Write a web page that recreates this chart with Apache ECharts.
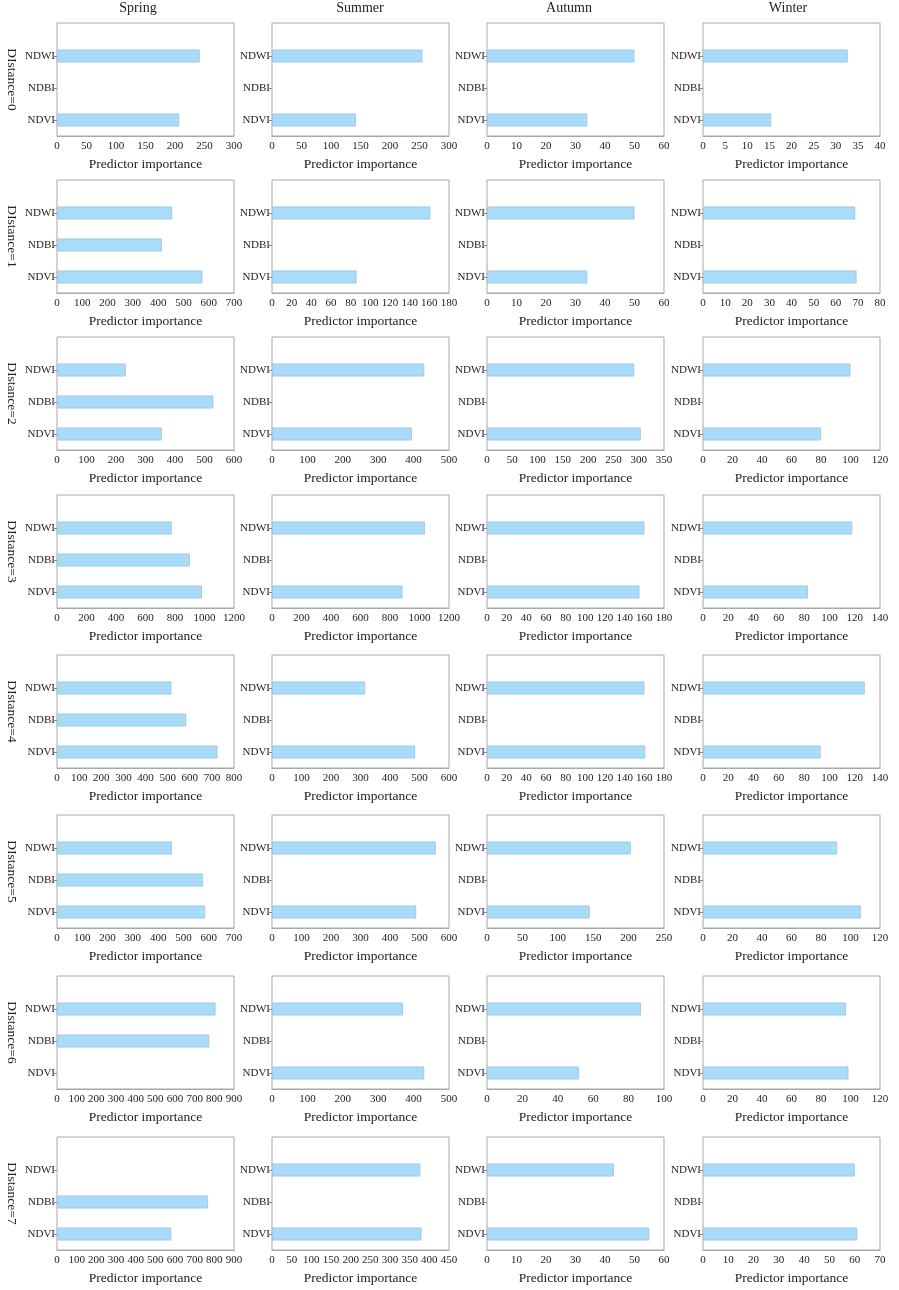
<!DOCTYPE html>
<html>
<head>
<meta charset="utf-8">
<script src="https://cdn.jsdelivr.net/npm/echarts@6/dist/echarts.min.js"></script>
<style>
  html, body { margin: 0; padding: 0; background: #fff; }
  #main { width: 899px; height: 1290px; }
</style>
</head>
<body>
<div id="main"></div>
<script>
// seasons (columns) and distances (rows)
var seasons = ['Spring', 'Summer', 'Autumn', 'Winter'];
var distances = ['DIstance=0', 'DIstance=1', 'DIstance=2', 'DIstance=3',
                 'DIstance=4', 'DIstance=5', 'DIstance=6', 'DIstance=7'];
var indices = ['NDVI', 'NDBI', 'NDWI'];

// predictor importance, one row per distance, one column per season
var ndviValues = [
  [207, 142, 34, 15.4],
  [575, 86, 34, 69.4],
  [355, 395, 304, 80],
  [982, 885, 155, 83],
  [725, 485, 161, 93],
  [586, 489, 145, 107],
  [null, 430, 52, 98.6],
  [581, 380, 55, 61]
];
var ndbiValues = [
  [null, null, null, null],
  [415, null, null, null],
  [530, null, null, null],
  [901, null, null, null],
  [584, null, null, null],
  [577, null, null, null],
  [774, null, null, null],
  [768, null, null, null]
];
var ndwiValues = [
  [242, 255, 50, 32.7],
  [455, 161, 50, 68.8],
  [233, 430, 291, 100],
  [777, 1037, 160, 118],
  [517, 316, 160, 128],
  [454, 555, 203, 91],
  [806, 370, 87, 97],
  [null, 377, 43, 60]
];

// x axis ranges
var axisMax = [
  [300, 300, 60, 40],
  [700, 180, 60, 80],
  [600, 500, 350, 120],
  [1200, 1200, 180, 140],
  [800, 600, 180, 140],
  [700, 600, 250, 120],
  [900, 500, 100, 120],
  [900, 450, 60, 70]
];
var axisStep = [
  [50, 50, 10, 5],
  [100, 20, 10, 10],
  [100, 100, 50, 20],
  [200, 200, 20, 20],
  [100, 100, 20, 20],
  [100, 100, 50, 20],
  [100, 100, 20, 20],
  [100, 50, 10, 10]
];

var colLeft = [57, 272, 487, 703];
var rowTop = [23, 180, 337, 495, 655, 815, 976, 1137];
var boxW = 177, boxH = 113, gapTop = 17;
var titleX = [138, 360, 569, 788];
var serif = '"Liberation Serif", "DejaVu Serif", serif';

var myChart = echarts.init(document.getElementById('main'));

var grid = [], xAxis = [], yAxis = [], series = [], graphic = [];

for (var r = 0; r < distances.length; r++) {
  for (var c = 0; c < seasons.length; c++) {
    // frame grid (the full box)
    var fi = grid.length;
    grid.push({
      left: colLeft[c], top: rowTop[r], width: boxW, height: boxH,
      show: true, borderColor: '#a8a8a8', borderWidth: 1
    });
    xAxis.push({ gridIndex: fi, type: 'value', show: false, min: 0, max: 1 });
    yAxis.push({ gridIndex: fi, type: 'value', show: false, min: 0, max: 1 });

    // data grid (three bands at the bottom of the box)
    var di = grid.length;
    grid.push({
      left: colLeft[c], top: rowTop[r] + gapTop, width: boxW, height: boxH - gapTop
    });
    xAxis.push({
      gridIndex: di, type: 'value', min: 0, max: axisMax[r][c], interval: axisStep[r][c],
      splitLine: { show: false },
      axisTick: { show: false },
      axisLine: { show: true, lineStyle: { color: '#a8a8a8', width: 1 } },
      axisLabel: { fontFamily: serif, fontSize: 11, color: '#222', margin: 5,
                   formatter: function (v) { return String(v); } },
      name: 'Predictor importance', nameLocation: 'middle', nameGap: 21,
      nameTextStyle: { fontFamily: serif, fontSize: 13.5, color: '#222' }
    });
    yAxis.push({
      gridIndex: di, type: 'category', data: indices,
      axisLine: { show: false },
      axisTick: { show: true, length: 3, alignWithLabel: true, lineStyle: { color: '#888' } },
      axisLabel: { fontFamily: serif, fontSize: 11, color: '#222', margin: 2 }
    });
    series.push({
      type: 'bar', xAxisIndex: di, yAxisIndex: di, barWidth: 13,
      itemStyle: { color: '#a9dbfb', borderColor: '#9cc3dc', borderWidth: 0.8 },
      data: [ndviValues[r][c], ndbiValues[r][c], ndwiValues[r][c]],
      silent: true
    });
  }
  // row label
  graphic.push({
    type: 'text', x: 12, y: rowTop[r] + boxH / 2, rotation: -Math.PI / 2,
    style: { text: distances[r], fontFamily: serif, fontSize: 13.5, fill: '#222',
             align: 'center', verticalAlign: 'middle' }
  });
}

for (var k = 0; k < seasons.length; k++) {
  graphic.push({
    type: 'text', x: titleX[k], y: 8,
    style: { text: seasons[k], fontFamily: serif, fontSize: 14, fill: '#222',
             align: 'center', verticalAlign: 'middle' }
  });
}

myChart.setOption({
  animation: false,
  grid: grid,
  xAxis: xAxis,
  yAxis: yAxis,
  series: series,
  graphic: graphic
});
</script>
</body>
</html>
